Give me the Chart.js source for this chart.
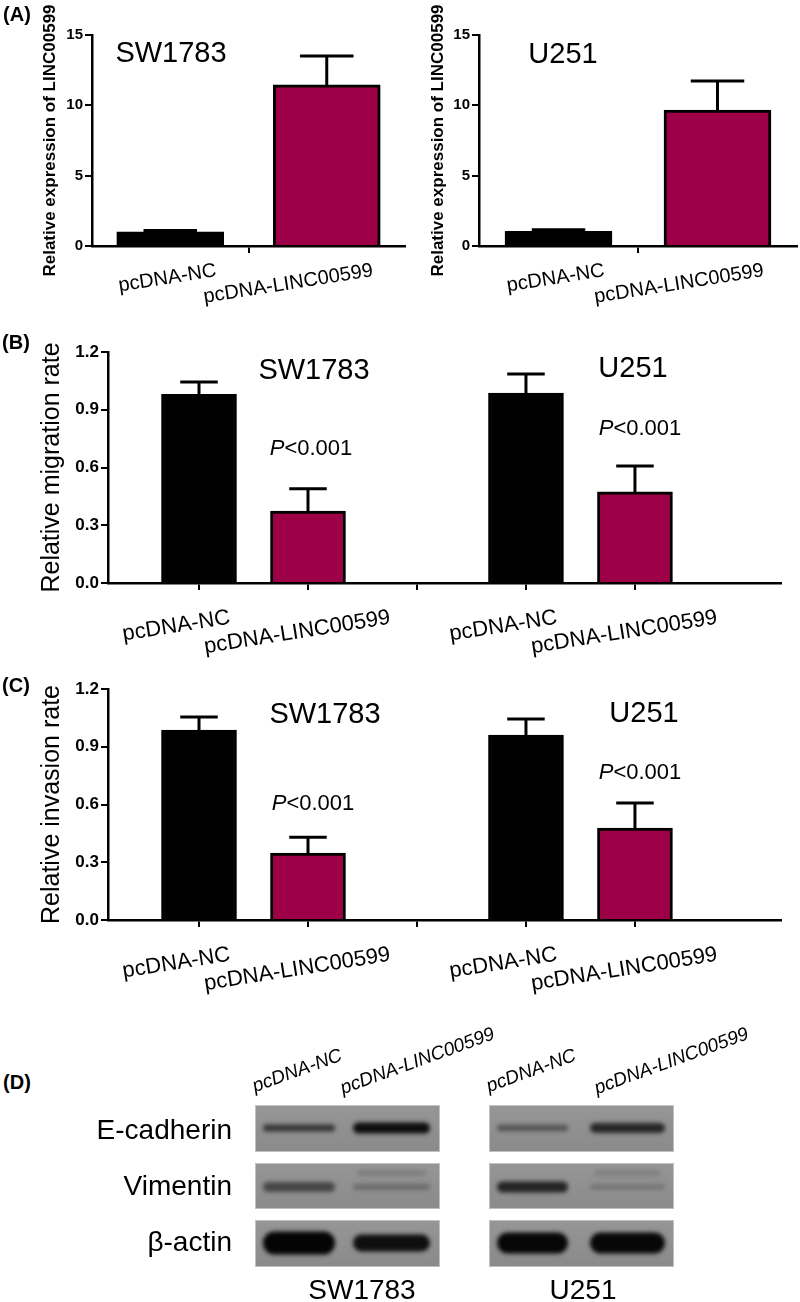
<!DOCTYPE html>
<html><head><meta charset="utf-8">
<script src="https://cdn.jsdelivr.net/npm/chart.js@4.4.1/dist/chart.umd.min.js"></script>
<style>
html,body{margin:0;padding:0;background:#fff;}
#page{position:relative;width:800px;height:1302px;overflow:hidden;font-family:"Liberation Sans",Arial,sans-serif;color:#000;background:#fff;}
canvas{position:absolute;}
.t{position:absolute;white-space:nowrap;transform:translate(-50%,-50%);line-height:1;}
.r{position:absolute;white-space:nowrap;transform:translate(-100%,-50%);line-height:1;}
.lane{position:absolute;white-space:nowrap;line-height:1;font-style:italic;font-size:19px;transform-origin:0 100%;transform:rotate(-20deg);}
</style></head><body><div id="page">
<canvas id="cA1" width="410" height="320" style="left:0;top:0;width:410px;height:320px"></canvas>
<canvas id="cA2" width="400" height="320" style="left:400px;top:0;width:400px;height:320px"></canvas>
<canvas id="cB" width="800" height="340" style="left:0;top:320px;width:800px;height:340px"></canvas>
<canvas id="cC" width="800" height="340" style="left:0;top:657px;width:800px;height:340px"></canvas>
<canvas id="cD" width="800" height="185" style="left:0;top:1095px;width:800px;height:185px"></canvas>
</div>
<script>
// ---------------- data ----------------
const categories = ['pcDNA-NC', 'pcDNA-LINC00599'];
const cellLines = ['SW1783', 'U251'];
const exprTicks = [0, 5, 10, 15];
const rateTicks = [0, 0.3, 0.6, 0.9, 1.2];
const exprSW1783 = [1.0, 11.45];
const exprSW1783Err = [0.1, 2.05];
const exprU251 = [1.05, 9.67];
const exprU251Err = [0.1, 2.06];
const migrationSW1783 = [0.98, 0.374];
const migrationSW1783Err = [0.064, 0.116];
const migrationU251 = [0.987, 0.473];
const migrationU251Err = [0.099, 0.135];
const invasionSW1783 = [0.987, 0.348];
const invasionSW1783Err = [0.068, 0.082];
const invasionU251 = [0.961, 0.478];
const invasionU251Err = [0.083, 0.13];
const pLabel = '<0.001';
const blotProteins = ['E-cadherin', 'Vimentin', 'β-actin'];
// band darkness (0..1) per protein row, per lane [NC, LINC00599]
const blotSW1783 = [[0.62, 0.9], [0.5, 0.25], [0.97, 0.9]];
const blotU251 = [[0.42, 0.72], [0.75, 0.2], [0.96, 0.95]];

// ---------------- styles ----------------
const FONT = '"Liberation Sans", Arial, sans-serif';
Chart.defaults.font.family = FONT;
Chart.defaults.color = '#000';
const NC_COLOR = '#000000';
const LINC_COLOR = '#9e0047';

const errorBarPlugin = {
  id: 'errBars',
  afterDatasetsDraw(chart, args, opts) {
    const {ctx, scales: {x, y}} = chart;
    const ds = chart.data.datasets[0];
    const meta = chart.getDatasetMeta(0);
    ctx.save();
    ctx.strokeStyle = '#000';
    ctx.lineWidth = 3;
    ds.data.forEach((pt, i) => {
      const e = opts.errors[i];
      if (e == null) return;
      const bar = meta.data[i];
      const px = x.getPixelForValue(pt.x);
      const yTop = y.getPixelForValue(pt.y);
      const yErr = y.getPixelForValue(pt.y + e);
      const half = bar.width / 4;
      ctx.beginPath();
      ctx.moveTo(px, yTop); ctx.lineTo(px, yErr);
      ctx.moveTo(px - half, yErr); ctx.lineTo(px + half, yErr);
      ctx.stroke();
    });
    ctx.restore();
  }
};

const labelPlugin = {
  id: 'xLabels',
  afterDraw(chart, args, opts) {
    const {ctx, scales: {x}, chartArea} = chart;
    const axisY = chartArea.bottom;
    ctx.save();
    ctx.fillStyle = '#000';
    ctx.font = opts.font;
    opts.items.forEach(it => {
      const px = x.getPixelForValue(it.value);
      const w = ctx.measureText(it.text).width;
      ctx.save();
      if (opts.mode === 'right') {
        ctx.translate(px + 46, axisY + 24.6);
        ctx.textAlign = 'right';
      } else {
        ctx.translate(px - 39 + 0.15 * w, axisY + 43 + (w - 108) * 0.08);
        ctx.textAlign = 'center';
      }
      ctx.rotate(-9 * Math.PI / 180);
      ctx.textBaseline = 'middle';
      ctx.fillText(it.text, 0, 0);
      ctx.restore();
    });
    ctx.font = opts.yTitleFont;
    ctx.save();
    ctx.translate(opts.yTitleX, (chartArea.top + chartArea.bottom) / 2);
    ctx.rotate(-Math.PI / 2);
    ctx.textAlign = 'center';
    ctx.textBaseline = 'middle';
    ctx.fillText(opts.yTitle, 0, 0);
    ctx.restore();
    ctx.restore();
  }
};

function makeChart(id, c) {
  const pts = c.values.map((v, i) => ({x: c.xs[i], y: v}));
  return new Chart(document.getElementById(id), {
    type: 'bar',
    data: {datasets: [{
      data: pts,
      backgroundColor: c.colors,
      borderColor: '#000',
      borderWidth: 3,
      barThickness: c.barPx
    }]},
    options: {
      responsive: false,
      animation: false,
      events: [],
      layout: {padding: {top: c.padTop, right: c.padRight, left: 0, bottom: 0}},
      plugins: {
        legend: {display: false}, tooltip: {enabled: false},
        errBars: {errors: c.errors},
        xLabels: {items: c.labels, mode: c.labelMode, font: c.labelFont,
                  yTitle: c.yTitle, yTitleFont: c.yTitleFont, yTitleX: c.yTitleX}
      },
      scales: {
        x: {
          type: 'linear', min: c.xMin, max: c.xMax, offset: false,
          afterBuildTicks: s => { s.ticks = c.xTicks.map(v => ({value: v})); },
          afterFit: s => { s.height = c.xHeight; },
          ticks: {display: false},
          grid: {display: true, drawOnChartArea: false, drawTicks: true, tickLength: 7, color: '#000', lineWidth: 2, offset: false},
          border: {display: true, color: '#000', width: 2.5}
        },
        y: {
          type: 'linear', min: c.yMin, max: c.yMax,
          afterBuildTicks: s => { s.ticks = c.yTicks.map(v => ({value: v})); },
          afterFit: s => { s.width = c.yWidth; },
          ticks: {font: {family: FONT, size: c.yTickSize, weight: 700}, color: '#000', padding: 2,
                  callback: v => c.yDecimals ? Number(v).toFixed(c.yDecimals) : String(v)},
          grid: {display: true, drawOnChartArea: false, drawTicks: true, tickLength: 7, color: '#000', lineWidth: 2},
          border: {display: true, color: '#000', width: 2.5}
        }
      }
    },
    plugins: [errorBarPlugin, labelPlugin]
  });
}

const twoColors = [NC_COLOR, LINC_COLOR];
const fourColors = [NC_COLOR, LINC_COLOR, NC_COLOR, LINC_COLOR];
const aLabels = categories.map((t, i) => ({text: t, value: i + 1}));
const groupXs = [1, 2, 4, 5];
const bLabels = groupXs.map((v, i) => ({text: categories[i % 2], value: v}));

const exprCommon = {
  xs: [1, 2], colors: twoColors, barPx: 107, xMin: 0.5, xMax: 2.5, xTicks: [1.5],
  yMin: 0, yMax: 15, yTicks: exprTicks, yDecimals: 0, yTickSize: 15,
  xHeight: 74, padTop: 35, labels: aLabels, labelMode: 'right', labelFont: '20px ' + FONT,
  yTitle: 'Relative expression of LINC00599', yTitleFont: 'bold 17px ' + FONT
};
makeChart('cA1', Object.assign({}, exprCommon, {
  values: exprSW1783, errors: exprSW1783Err, yWidth: 92, padRight: 5, yTitleX: 50
}));
makeChart('cA2', Object.assign({}, exprCommon, {
  values: exprU251, errors: exprU251Err, yWidth: 79, padRight: 3, yTitleX: 38
}));

const rateCommon = {
  xs: groupXs, colors: fourColors, barPx: 75, xMin: 0.165, xMax: 6.34, xTicks: [1, 2, 3, 4, 5],
  yMin: 0, yMax: 1.2, yTicks: rateTicks, yDecimals: 1, yTickSize: 17,
  xHeight: 77, padTop: 32, padRight: 19, yWidth: 108,
  labels: bLabels, labelMode: 'center', labelFont: '22px ' + FONT,
  yTitleFont: '25px ' + FONT, yTitleX: 52
};
makeChart('cB', Object.assign({}, rateCommon, {
  values: migrationSW1783.concat(migrationU251),
  errors: migrationSW1783Err.concat(migrationU251Err),
  yTitle: 'Relative migration rate'
}));
makeChart('cC', Object.assign({}, rateCommon, {
  values: invasionSW1783.concat(invasionU251),
  errors: invasionSW1783Err.concat(invasionU251Err),
  yTitle: 'Relative invasion rate'
}));

// ---------------- text annotations ----------------
const page = document.getElementById('page');
function addText(cls, html, x, y, style) {
  const d = document.createElement('div');
  d.className = cls;
  d.innerHTML = html;
  d.style.left = x + 'px';
  d.style.top = y + 'px';
  Object.assign(d.style, style || {});
  page.appendChild(d);
  return d;
}
const letterStyle = {fontWeight: 'bold', fontSize: '20px'};
addText('t', '(A)', 17, 14, letterStyle);
addText('t', '(B)', 16, 342, letterStyle);
addText('t', '(C)', 16, 685, letterStyle);
addText('t', '(D)', 17, 1082, letterStyle);

const titleStyle = {fontSize: '29px'};
addText('t', cellLines[0], 171, 52, titleStyle);
addText('t', cellLines[1], 563, 53, titleStyle);
addText('t', cellLines[0], 314, 369, titleStyle);
addText('t', cellLines[1], 633, 367, titleStyle);
addText('t', cellLines[0], 325, 713, titleStyle);
addText('t', cellLines[1], 644, 712, titleStyle);

const pStyle = {fontSize: '22px'};
const pHtml = '<i>P</i>' + pLabel.replace('<', '&lt;');
addText('t', pHtml, 311, 448, pStyle);
addText('t', pHtml, 640, 428, pStyle);
addText('t', pHtml, 313, 803, pStyle);
addText('t', pHtml, 640, 772, pStyle);

// ---------------- western blot (panel D) ----------------
const rowLabelYs = [1130, 1186, 1242];
blotProteins.forEach((p, i) => addText('r', p, 232, rowLabelYs[i], {fontSize: '28px'}));
addText('t', cellLines[0], 362, 1290, {fontSize: '28px'});
addText('t', cellLines[1], 583, 1290, {fontSize: '28px'});
const laneAnchors = [[256, 1095], [344, 1097], [490, 1095], [598, 1097]];
laneAnchors.forEach((a, i) => addText('lane', categories[i % 2], a[0], a[1] - 19));

(function drawBlots() {
  const cv = document.getElementById('cD');
  const ctx = cv.getContext('2d');
  const top0 = 1095;
  const rows = [[1105, 1152], [1163, 1209], [1220, 1267]];
  const boxes = [[255, 440], [489, 674]];
  const lanes = [[[263, 335], [353, 430]], [[497, 568], [590, 665]]];
  const centers = [1128, 1187, 1243];
  const thickness = [[[7, 11], [10, 6], [23, 17]], [[6, 10], [11, 5], [21, 21]]];
  const data = [blotSW1783, blotU251];
  const bg = 142;
  function pill(x, y, w, h) {
    const r = h / 2;
    ctx.beginPath();
    ctx.moveTo(x + r, y);
    ctx.lineTo(x + w - r, y);
    ctx.arc(x + w - r, y + r, r, -Math.PI / 2, Math.PI / 2);
    ctx.lineTo(x + r, y + h);
    ctx.arc(x + r, y + r, r, Math.PI / 2, Math.PI * 1.5);
    ctx.closePath();
  }
  boxes.forEach((b, bi) => {
    rows.forEach((r, ri) => {
      const y0 = r[0] - top0, y1 = r[1] - top0;
      const g = ctx.createLinearGradient(0, y0, 0, y1);
      g.addColorStop(0, 'rgb(150,150,150)');
      g.addColorStop(1, 'rgb(138,138,138)');
      ctx.fillStyle = g;
      ctx.fillRect(b[0], y0, b[1] - b[0], y1 - y0);
      ctx.strokeStyle = 'rgba(205,205,205,0.8)';
      ctx.lineWidth = 1;
      ctx.strokeRect(b[0] + 0.5, y0 + 0.5, b[1] - b[0] - 1, y1 - y0 - 1);
      ctx.save();
      ctx.beginPath(); ctx.rect(b[0] + 1, y0 + 1, b[1] - b[0] - 2, y1 - y0 - 2); ctx.clip();
      ctx.filter = 'blur(2.2px)';
      lanes[bi].forEach((ln, li) => {
        const d = data[bi][ri][li];
        const h = thickness[bi][ri][li];
        const yc = centers[ri] - top0;
        const c = Math.round(bg * (1 - d));
        ctx.fillStyle = `rgb(${c},${c},${c})`;
        pill(ln[0], yc - h / 2, ln[1] - ln[0], h);
        ctx.fill();
        if (ri === 1 && li === 1) {
          const c2 = Math.round(bg * (1 - d * 0.45));
          ctx.fillStyle = `rgb(${c2},${c2},${c2})`;
          pill(ln[0] + 4, yc - 14 - 3, ln[1] - ln[0] - 8, 6);
          ctx.fill();
        }
      });
      ctx.restore();
    });
  });
})();
</script>
</body></html>
